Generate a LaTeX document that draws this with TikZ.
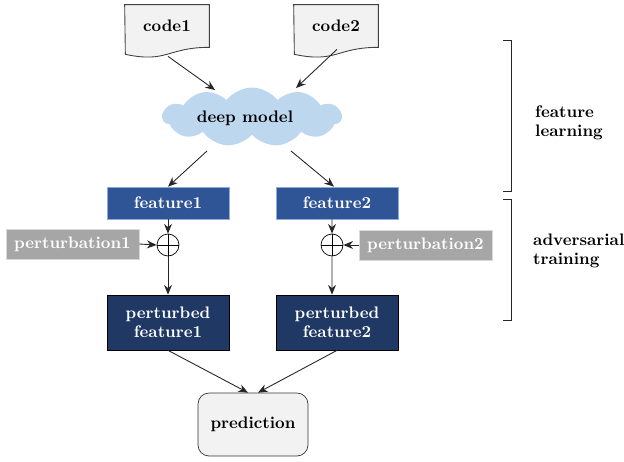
\documentclass[tikz,border=0pt]{standalone}
\usepackage{xcolor}
\usepackage{tikz}
\usetikzlibrary{shapes.symbols,arrows.meta}

\definecolor{docgray}{HTML}{F2F2F2}
\definecolor{cloudblue}{HTML}{BDD7EE}
\definecolor{featblue}{HTML}{2F5597}
\definecolor{featedge}{HTML}{8FAADC}
\definecolor{darknavy}{HTML}{1F3864}
\definecolor{pertgray}{HTML}{A6A6A6}

\begin{document}
\begin{tikzpicture}[x=0.02cm, y=-0.02cm,
    font=\fontsize{9.5}{11}\selectfont\bfseries,
    >={Stealth[length=5.5pt,width=4.5pt]},
    doc/.style={minimum width=1.68cm, minimum height=0.84cm, inner sep=0pt},
    docedge/.style={draw=black!75, fill=docgray, line width=0.5pt},
    feat/.style={fill=featblue, draw=featedge, text=white, minimum width=2.44cm, minimum height=0.64cm, inner sep=0pt},
    pert/.style={fill=pertgray, draw=black!15, text=white, minimum width=2.66cm, minimum height=0.6cm, inner sep=0pt},
    pfeat/.style={fill=darknavy, draw=black, text=white, minimum width=2.44cm, minimum height=1.1cm, inner sep=0pt, align=center},
    plus/.style={circle, draw, fill=white, minimum size=0.44cm, inner sep=0pt},
    link/.style={->, black!85, line width=0.5pt}]
    \useasboundingbox (0,0) rectangle (624,462);

    % input code
    \node [doc] (code1) at (167,26) {code1};
    \node [doc] (code2) at (336,26) {code2};
    \foreach \c in {code1,code2} {
        \draw [docedge] (\c.north west) -- (\c.north east) -- (\c.south east)
            .. controls ([shift={(-42,0)}]\c.south east) and ([shift={(-42,16)}]\c.south east)
            .. ([shift={(-84,7)}]\c.south east) -- cycle;
        \node at (\c) {\c};
    }

    \node [cloud, cloud puffs=11, cloud puff arc=105, aspect=3.2, fill=cloudblue,
        minimum width=3.58cm, minimum height=1.18cm, inner sep=0pt] (model) at (252,117) {};
    \node at (245,118) {deep model};

    \node [feat] (feat1) at (168,203) {feature1};
    \node [feat] (feat2) at (337,203) {feature2};

    \node [plus] (add1) at (168,245) {};
    \node [plus] (add2) at (332,245) {};
    \draw (add1.north) -- (add1.south) (add1.west) -- (add1.east);
    \draw (add2.north) -- (add2.south) (add2.west) -- (add2.east);

    \node [pert] (pert1) at (72.5,244) {perturbation1};
    \node [pert] (pert2) at (425.5,245) {perturbation2};

    \node [pfeat] (pfeat1) at (168,322.5) {perturbed\\feature1};
    \node [pfeat] (pfeat2) at (337,322.5) {perturbed\\feature2};

    \node [draw=black!80, fill=docgray, rounded corners=0.22cm, minimum width=2.2cm,
        minimum height=1.26cm] (pred) at (253,424.5) {prediction};

    % connections
    \draw [link] ([shift={(1,9)}]code1.south) -- (215,90);
    \draw [link] ([shift={(1,2)}]code2.south) -- (296,88);
    \draw [link] (207,151) -- (feat1.north);
    \draw [link] (291,151) -- ([xshift=-0.06cm]feat2.north);
    \draw [link] (feat1.south) -- (add1.north);
    \draw [link] ([xshift=-0.1cm]feat2.south) -- (add2.north);
    \draw [link] (pert1.east) -- (add1.west);
    \draw [link] (pert2.west) -- (add2.east);
    \draw [link] (add1.south) -- (pfeat1.north);
    \draw [link] (add2.south) -- ([xshift=-0.1cm]pfeat2.north);
    \draw [link] (pfeat1.south) -- ([xshift=-0.1cm]pred.north);
    \draw [link] (pfeat2.south) -- ([xshift=0.1cm]pred.north);

    % stage brackets
    \draw [black!85, line width=0.5pt] (503,40) -- (511,40) -- (511,191) -- (503,191);
    \draw [black!85, line width=0.5pt] (503,199) -- (511,199) -- (511,320) -- (503,320);
    \node [anchor=west, align=left] at (529,123) {feature\\learning};
    \node [anchor=west, align=left] at (527,251) {adversarial\\training};
\end{tikzpicture}
\end{document}
